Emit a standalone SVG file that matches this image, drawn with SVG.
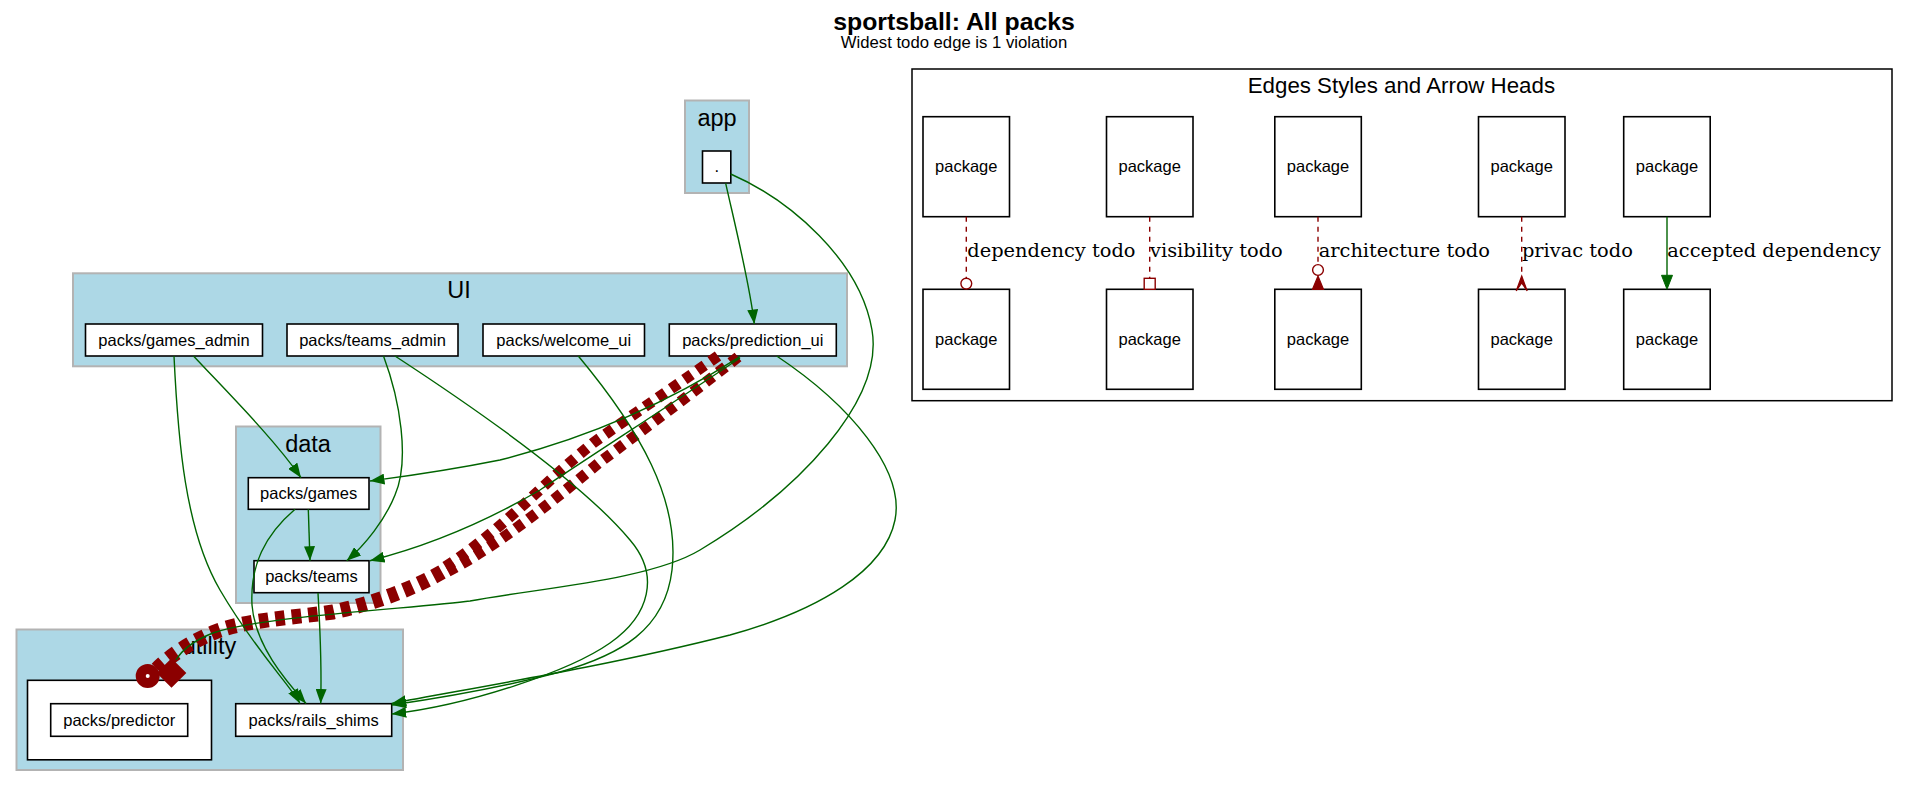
<svg xmlns="http://www.w3.org/2000/svg" width="1908" height="787" viewBox="0 0 1908 787">
<style>
.bg{fill:#ffffff}
.cl{fill:#add8e6;stroke:#b3b3b3;stroke-width:2}
.sub{fill:#ffffff;stroke:#000;stroke-width:1.6}
.nd{fill:#ffffff;stroke:#000;stroke-width:1.6}
.nt{font-family:"Liberation Sans",Arial,sans-serif;font-size:16.5px;fill:#000;text-anchor:middle}
.ct{font-family:"Liberation Sans",Arial,sans-serif;font-size:23.5px;fill:#000;text-anchor:middle}
.el{font-family:"DejaVu Serif",serif;font-size:19.4px;fill:#000}
.g{fill:none;stroke:#006400;stroke-width:1.4}
.ga{fill:none;stroke:#006400;stroke-width:1.4;marker-end:url(#arr)}
.r{fill:none;stroke:#8b0000;stroke-width:11;stroke-dasharray:9,7}
.rw{fill:none;stroke:#8b0000;stroke-width:15;stroke-dasharray:9.5,7}
.rl{fill:none;stroke:#8b0000;stroke-width:1.4;stroke-dasharray:5,5}
</style>
<defs>
<marker id="arr" viewBox="0 0 14.5 11" refX="14.5" refY="5.5" markerWidth="14.5" markerHeight="11" markerUnits="userSpaceOnUse" orient="auto">
<path d="M0,0 L14.5,5.5 L0,11 z" fill="#006400"/>
</marker>
</defs>
<rect class="bg" x="0" y="0" width="1908" height="787"/>

<g id="title">
<text x="954" y="30" font-family="Liberation Sans, Arial, sans-serif" font-size="24.8" font-weight="bold" text-anchor="middle">sportsball: All packs</text>
<text x="954" y="47.7" font-family="Liberation Sans, Arial, sans-serif" font-size="16.7" text-anchor="middle">Widest todo edge is 1 violation</text>
</g>

<g id="cluster_app">
<rect class="cl" x="685" y="100.5" width="64" height="92.5"/>
<text class="ct" x="717" y="126">app</text>
</g>
<g id="cluster_UI">
<rect class="cl" x="73" y="273.3" width="774" height="93"/>
<text class="ct" x="459" y="298.3">UI</text>
</g>
<g id="cluster_data">
<rect class="cl" x="236" y="426.5" width="144.5" height="176.5"/>
<text class="ct" x="308" y="452.3">data</text>
</g>
<g id="cluster_utility">
<rect class="cl" x="16.5" y="629.5" width="386.5" height="140.5"/>
<text class="ct" x="209.5" y="654.3">utility</text>
<rect class="sub" x="27.5" y="680.3" width="184" height="79.5"/>
</g>

<g id="node_root">
<rect class="nd" x="702.5" y="151" width="28.3" height="32"/>
<text class="nt" x="716.7" y="172">.</text>
</g>
<g id="node_games_admin">
<rect class="nd" x="85.5" y="324" width="177" height="32"/>
<text class="nt" x="174" y="345.7">packs/games_admin</text>
</g>
<g id="node_teams_admin">
<rect class="nd" x="287" y="324" width="171" height="32"/>
<text class="nt" x="372.5" y="345.7">packs/teams_admin</text>
</g>
<g id="node_welcome_ui">
<rect class="nd" x="483" y="324" width="161.5" height="32"/>
<text class="nt" x="563.7" y="345.7">packs/welcome_ui</text>
</g>
<g id="node_prediction_ui">
<rect class="nd" x="669.3" y="324" width="167" height="32"/>
<text class="nt" x="752.8" y="345.7">packs/prediction_ui</text>
</g>
<g id="node_games">
<rect class="nd" x="248.3" y="477.7" width="120.7" height="31.6"/>
<text class="nt" x="308.7" y="499.2">packs/games</text>
</g>
<g id="node_teams">
<rect class="nd" x="254" y="560.7" width="115" height="32"/>
<text class="nt" x="311.5" y="582.4">packs/teams</text>
</g>
<g id="node_predictor">
<rect class="nd" x="50.7" y="703.7" width="137" height="32.6"/>
<text class="nt" x="119.2" y="725.5">packs/predictor</text>
</g>
<g id="node_rails_shims">
<rect class="nd" x="235.7" y="703.7" width="156" height="32.6"/>
<text class="nt" x="313.7" y="725.5">packs/rails_shims</text>
</g>

<g id="connectors">
<path class="r" d="M718,356 C670,390 625,420 593,443 C560,470 540,490 520,508 C490,535 465,555 440,570"/>
<path class="r" d="M738,357 C690,395 640,432 600,462 C560,495 500,545 445,573"/>
<path class="rw" d="M442,572 C410,590 375,603 333,612 C290,618 245,620 215,632 C190,642 170,656 157,669"/>
<circle cx="147.7" cy="676" r="7" fill="#ffffff" stroke="#8b0000" stroke-width="10"/>
<rect x="166" y="667.5" width="11" height="11" fill="#8b0000" stroke="#8b0000" stroke-width="10" transform="rotate(45 171.5 673)"/>

<path class="ga" d="M725.7,183.3 C735,225 750,285 754.3,324"/>
<path class="g" d="M730.7,174 C790,200 860,260 872,330 C884,400 800,490 700,550 C650,580 540,588 470,601 C420,608 260,616 213,633 C195,640 182,650 176,660"/>
<path class="ga" d="M174,356 C178,440 185,530 220,590 C255,650 290,685 300,703.5"/>
<path class="ga" d="M193.5,356 C230,395 275,440 301,477.7"/>
<path class="ga" d="M383.5,356 C400,400 410,460 395,495 C385,520 365,545 346.7,560.7"/>
<path class="ga" d="M395,356 C470,405 580,480 630,540 C660,575 650,615 610,643 C570,671 470,705 391.7,714"/>
<path class="ga" d="M578.3,356 C640,430 680,500 672,570 C665,630 620,655 560,672 C500,688 440,698 391.7,705"/>
<path class="ga" d="M740,356.7 C680,395 600,435 500,460 C440,472 400,477 370,481"/>
<path class="ga" d="M740,358 C670,405 600,450 540,490 C480,525 420,548 370,560.7"/>
<path class="ga" d="M776.7,356 C850,405 905,470 895,520 C885,570 820,610 730,635 C600,668 460,690 391.7,703.5"/>
<path class="ga" d="M308.3,509.3 L310,560.7"/>
<path class="ga" d="M295,509.3 C265,535 250,565 252,605 C255,645 285,680 306,703.5"/>
<path class="ga" d="M318,593 C320,630 322,660 320.7,703.5"/>
</g>

<g id="legend">
<rect x="912" y="69" width="980" height="331.7" fill="#ffffff" stroke="#000" stroke-width="1.5"/>
<text x="1401.4" y="92.7" font-family="Liberation Sans, Arial, sans-serif" font-size="22.3" text-anchor="middle">Edges Styles and Arrow Heads</text>
<g id="legend_nodes">
<rect class="nd" x="923" y="116.7" width="86.5" height="100"/><text class="nt" x="966.3" y="172.3">package</text>
<rect class="nd" x="1106.5" y="116.7" width="86.5" height="100"/><text class="nt" x="1149.7" y="172.3">package</text>
<rect class="nd" x="1274.8" y="116.7" width="86.5" height="100"/><text class="nt" x="1318" y="172.3">package</text>
<rect class="nd" x="1478.5" y="116.7" width="86.5" height="100"/><text class="nt" x="1521.7" y="172.3">package</text>
<rect class="nd" x="1623.7" y="116.7" width="86.5" height="100"/><text class="nt" x="1667" y="172.3">package</text>
<rect class="nd" x="923" y="289.3" width="86.5" height="100"/><text class="nt" x="966.3" y="344.9">package</text>
<rect class="nd" x="1106.5" y="289.3" width="86.5" height="100"/><text class="nt" x="1149.7" y="344.9">package</text>
<rect class="nd" x="1274.8" y="289.3" width="86.5" height="100"/><text class="nt" x="1318" y="344.9">package</text>
<rect class="nd" x="1478.5" y="289.3" width="86.5" height="100"/><text class="nt" x="1521.7" y="344.9">package</text>
<rect class="nd" x="1623.7" y="289.3" width="86.5" height="100"/><text class="nt" x="1667" y="344.9">package</text>
</g>
<g id="legend_edges">
<path class="rl" d="M966.3,216.7 L966.3,278"/>
<circle cx="966.3" cy="283.6" r="5.4" fill="#ffffff" stroke="#8b0000" stroke-width="1.4"/>
<text class="el" x="967.3" y="257.3">dependency todo</text>

<path class="rl" d="M1149.7,216.7 L1149.7,278"/>
<rect x="1144.2" y="278.3" width="11" height="11" fill="#ffffff" stroke="#8b0000" stroke-width="1.4"/>
<text class="el" x="1150" y="257.3">visibility todo</text>

<path class="rl" d="M1318,216.7 L1318,264.5"/>
<circle cx="1318" cy="270" r="5.4" fill="#ffffff" stroke="#8b0000" stroke-width="1.4"/>
<path d="M1312.5,289.3 L1318,276 L1323.5,289.3 z" fill="#8b0000" stroke="#8b0000" stroke-width="1.2"/>
<text class="el" x="1318.7" y="257.3">architecture todo</text>

<path class="rl" d="M1521.7,216.7 L1521.7,277"/>
<path d="M1521.7,276 L1527.2,291 L1521.7,283 L1516.2,291 z" fill="#8b0000" stroke="#8b0000" stroke-width="1.2"/>
<text class="el" x="1521.9" y="257.3">privac todo</text>

<path class="g" d="M1667,216.7 L1667,275.3"/>
<path d="M1661.5,275.3 L1667,289.3 L1672.5,275.3 z" fill="#006400" stroke="#006400" stroke-width="1"/>
<text class="el" x="1667.3" y="257.3">accepted dependency</text>
</g>
</g>
</svg>
